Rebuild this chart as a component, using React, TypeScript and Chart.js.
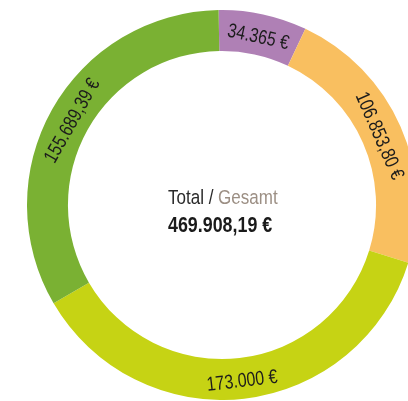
import React, { useEffect, useRef } from "react";
import { Chart, registerables } from "chart.js";

Chart.register(...registerables);

const categories = ["A", "B", "C", "D"];
const values = [34365, 106853.8, 173000, 155689.39];
const valueLabels = ["34.365 €", "106.853,80 €", "173.000 €", "155.689,39 €"];
const colors = ["#AF80B5", "#F9BF60", "#C6D314", "#7AB133"];
const totalLabelA = "Total / ";
const totalLabelB = "Gesamt";
const totalValue = "469.908,19 €";

const FONT = "'Liberation Sans', Arial, sans-serif";
const SX = 0.8;
const SX_CENTER = 0.83;

const labelPlugin = {
  id: "labels",
  afterDraw(chart: any) {
    const ctx = chart.ctx;
    const meta = chart.getDatasetMeta(0);
    meta.data.forEach((arc: any, i: number) => {
      const { x, y, startAngle, endAngle, innerRadius, outerRadius } = arc.getProps(
        ["x", "y", "startAngle", "endAngle", "innerRadius", "outerRadius"],
        true
      );
      const a = (startAngle + endAngle) / 2;
      const r = (innerRadius + outerRadius) / 2;
      const px = x + r * Math.cos(a);
      const py = y + r * Math.sin(a);
      const bottom = Math.sin(a) > 0.3;
      const rot = bottom ? a - Math.PI / 2 : a + Math.PI / 2;
      ctx.save();
      ctx.translate(px, py);
      ctx.rotate(rot);
      ctx.scale(SX, 1);
      ctx.font = `20px ${FONT}`;
      ctx.fillStyle = "#1c1c1c";
      ctx.textAlign = "center";
      ctx.textBaseline = "middle";
      ctx.fillText(valueLabels[i], 0, 3);
      ctx.restore();
    });
    const arc0 = meta.data[0];
    if (arc0) {
      const cx = arc0.x;
      const cy = arc0.y;
      const lx = cx - 54;
      ctx.save();
      ctx.textAlign = "left";
      ctx.textBaseline = "alphabetic";
      ctx.translate(lx, 0);
      ctx.scale(SX_CENTER, 1);
      ctx.font = `20.5px ${FONT}`;
      ctx.fillStyle = "#2a2a2a";
      ctx.fillText(totalLabelA, 0, cy - 1.5);
      const w = ctx.measureText(totalLabelA).width;
      ctx.fillStyle = "#9C8F84";
      ctx.fillText(totalLabelB, w, cy - 1.5);
      ctx.font = `bold 21.5px ${FONT}`;
      ctx.fillStyle = "#1a1a1a";
      ctx.fillText(totalValue, 0, cy + 26.5);
      ctx.restore();
    }
  },
};

export default function App() {
  const ref = useRef<HTMLCanvasElement>(null);
  useEffect(() => {
    if (!ref.current) return;
    const chart = new Chart(ref.current, {
      type: "doughnut",
      data: {
        labels: categories,
        datasets: [
          {
            data: values,
            backgroundColor: colors,
            borderWidth: 0,
            hoverOffset: 0,
          },
        ],
      },
      options: {
        responsive: false,
        animation: false,
        cutout: "79%",
        rotation: -1,
        layout: { padding: 0 },
        plugins: {
          legend: { display: false },
          tooltip: { enabled: false },
        },
        events: [],
      },
      plugins: [labelPlugin],
    });
    return () => chart.destroy();
  }, []);
  return (
    <div
      style={{
        position: "absolute",
        left: 0,
        top: 0,
        width: 408,
        height: 401,
        overflow: "hidden",
        background: "#fff",
      }}
    >
      <canvas
        ref={ref}
        width={390}
        height={390}
        style={{ position: "absolute", left: 27, top: 10, width: 390, height: 390 }}
      />
    </div>
  );
}
